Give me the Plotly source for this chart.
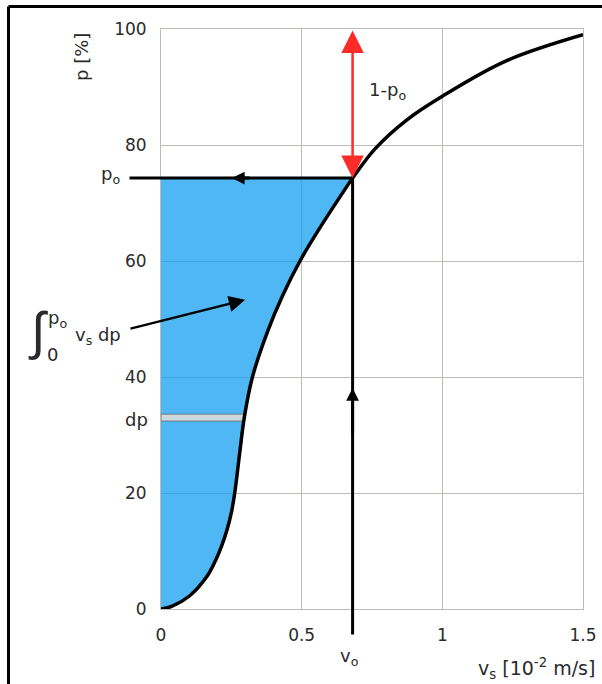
import numpy as np
import plotly.graph_objects as go

# ---------------- data ----------------
p_curve = [0, 0.5, 2.2, 5.6, 8.5, 10.8, 13.7, 16.6, 20, 27, 33, 40, 48, 54, 60, 65.5,
           71.7, 74.3, 79.3, 84.3, 88.4, 94.5, 99.0]
v_curve = [0, 0.04, 0.10, 0.163, 0.195, 0.215, 0.235, 0.25, 0.262, 0.280, 0.296, 0.325,
           0.380, 0.432, 0.494, 0.562, 0.645, 0.681, 0.76, 0.873, 1.0, 1.227, 1.5]
p_o = 74.3
v_o = 0.681
dp_band = [32.4, 33.6]
x_ticks = [0, 0.5, 1, 1.5]
x_ticklabels = ["0", "0.5", "1", "1.5"]
y_ticks = [0, 20, 40, 60, 80, 100]
y_ticklabels = ["0", "20", "40", "60", "80", "100"]

# ---------------- layout helpers ----------------
W, H = 602, 684
ML, MR, MT, MB = 161, 19, 29, 75
PW, PH = W - ML - MR, H - MT - MB


def px_x(px):
    return (px - ML) / PW


def px_y(py):
    return (H - MB - py) / PH


def data_x(px):
    return (px - ML) / PW * 1.5


def data_y(py):
    return (H - MB - py) / PH * 100


FONT = "DejaVu Sans"
TXT = "#2a2a2a"
GRID = "#bdbdb8"

fig = go.Figure()

# filled area under the curve up to p_o
fill_v = [v for v, p in zip(v_curve, p_curve) if p <= p_o] + [0]
fill_p = [p for p in p_curve if p <= p_o] + [p_o]
fig.add_trace(go.Scatter(x=fill_v, y=fill_p, fill="toself", mode="lines",
                         line=dict(width=0, color="rgba(0,0,0,0)"),
                         fillcolor="rgba(20,160,240,0.75)", hoverinfo="skip",
                         showlegend=False))

# dp strip
v_lo = float(np.interp(dp_band[0], p_curve, v_curve))
v_hi = float(np.interp(dp_band[1], p_curve, v_curve))
fig.add_trace(go.Scatter(x=[0, v_lo, v_hi, 0, 0],
                         y=[dp_band[0], dp_band[0], dp_band[1], dp_band[1], dp_band[0]],
                         fill="toself", mode="lines",
                         line=dict(width=1, color="#6a7a80"),
                         fillcolor="#cfd8dc", hoverinfo="skip", showlegend=False))

# the curve
fig.add_trace(go.Scatter(x=v_curve, y=p_curve, mode="lines",
                         line=dict(color="black", width=3.5, shape="spline", smoothing=1.0),
                         hoverinfo="skip", showlegend=False))

annots = []


def arrow(hx, hy, tx, ty, color="black", width=3, head=0, size=1, both=False):
    d = dict(x=hx, y=hy, ax=tx, ay=ty, xref="x", yref="y", axref="x", ayref="y",
             text="", showarrow=True, arrowhead=head, arrowsize=size, arrowwidth=width,
             arrowcolor=color)
    if both:
        d.update(arrowside="end+start", startarrowhead=head, startarrowsize=size)
    annots.append(d)


# horizontal line at p_o and its arrowhead (pointing left)
arrow(v_o, p_o, data_x(128), p_o)
arrow(0.252, p_o, 0.32, p_o, head=2, size=0.85)
# vertical line at v_o and its arrowhead (pointing up)
arrow(v_o, p_o, v_o, data_y(636))
arrow(v_o, 38.1, v_o, 30, head=2, size=0.85)
# red double arrow 1-p_o
arrow(v_o, p_o, v_o, 100, color="#ff2a2a", width=2.5, head=2, size=1.8, both=True)
# integral arrow
arrow(0.299, 53.3, data_x(129), data_y(329), width=2.5, head=2, size=1.3)


def label(text, cx, cy, size=17, family=FONT, **kw):
    d = dict(x=px_x(cx), y=px_y(cy), xref="paper", yref="paper", text=text,
             showarrow=False, font=dict(family=family, size=size, color=TXT),
             xanchor="center", yanchor="middle")
    d.update(kw)
    annots.append(d)


label("p [%]", 82, 57, size=18, textangle=-90)
label("v<sub>s</sub> [10<sup>-2</sup> m/s]", 597, 668, size=19, xanchor="right")
label("v<sub>o</sub>", 349, 657, size=18)
label("p<sub>o</sub>", 110, 175, size=18)
label("dp", 136, 419, size=18)
label("1-p<sub>o</sub>", 387, 91, size=18)
label("∫", 38, 331, size=52, family="Liberation Sans")
label("p<sub>o</sub>", 57, 319, size=18)
label("0", 52, 354, size=18)
label("v<sub>s</sub> dp", 98, 336, size=18)

axis_common = dict(showgrid=True, gridcolor=GRID, gridwidth=1, showline=True, mirror=True,
                   linecolor=GRID, linewidth=1, zeroline=False, ticks="", automargin=False,
                   tickfont=dict(family=FONT, size=17, color=TXT), fixedrange=True)

frame = dict(color="black", width=3)
fig.update_layout(
    width=W, height=H, autosize=False,
    margin=dict(l=ML, r=MR, t=MT, b=MB, pad=0),
    paper_bgcolor="white", plot_bgcolor="white",
    xaxis=dict(range=[0, 1.5], tickvals=x_ticks, ticktext=x_ticklabels,
               ticklabelstandoff=11, **axis_common),
    yaxis=dict(range=[0, 100], tickvals=y_ticks, ticktext=y_ticklabels,
               ticklabelstandoff=10, **axis_common),
    annotations=annots,
    shapes=[
        dict(type="line", xref="paper", yref="paper", x0=px_x(8.5), x1=px_x(8.5),
             y0=px_y(6.5), y1=px_y(700), line=frame, layer="above"),
        dict(type="line", xref="paper", yref="paper", x0=px_x(8.5), x1=px_x(620),
             y0=px_y(6.5), y1=px_y(6.5), line=frame, layer="above"),
    ],
    showlegend=False,
)

fig.write_html("out.html", config={"displayModeBar": False},
               post_script="document.body.style.margin='0px';")
